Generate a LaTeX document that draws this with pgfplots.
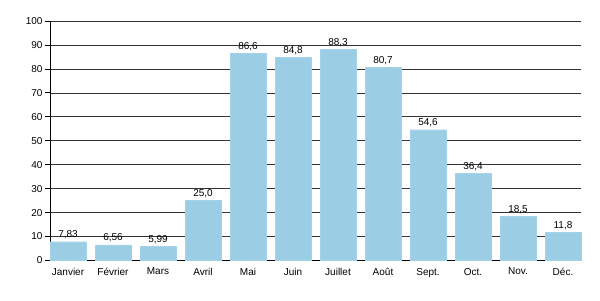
\documentclass[border=0pt]{standalone}
\usepackage{pgfplots}
\pgfplotsset{compat=1.18}
\usepackage{pgfplotstable}
\usepackage{fontspec}
\setmainfont{Liberation Sans}
\definecolor{barblue}{RGB}{155,205,229}
\pgfplotstableread{
x y lab
0 7.83 7,83
1 6.56 6,56
2 5.99 5,99
3 25.0 25,0
4 86.6 86,6
5 84.8 84,8
6 88.3 88,3
7 80.7 80,7
8 54.6 54,6
9 36.4 36,4
10 18.5 18,5
11 11.8 11,8
}\datatable
\begin{document}
\fontsize{10bp}{12bp}\selectfont
\begin{tikzpicture}
\begin{axis}[
  name=ax,
  scale only axis,
  width=531bp, height=239.5bp,
  xmin=-0.4, xmax=11.4,
  ymin=0, ymax=100,
  ytick={0,10,...,100},
  xtick={0,...,11},
  xticklabels={Janvier,Février,Mars,Avril,Mai,Juin,Juillet,Août,Sept.,Oct.,Nov.,Déc.},
  axis x line*=bottom,
  axis y line*=left,
  x axis line style={-, line width=1pt},
  y axis line style={-, line width=0.8pt},
  major x tick style={draw=none},
  ytick style={black, line width=0.8pt},
  tick align=outside,
  major tick length=5bp,
  ymajorgrids,
  grid style={black!80, line width=0.7pt},
  /pgf/number format/assume math mode=true,
  ticklabel style={font=\fontsize{10bp}{12bp}\selectfont},
  xticklabel style={yshift=1bp},
  yticklabel style={xshift=1bp},
  axis on top=false,
  clip=false,
]
\addplot[ybar, bar width=0.8, fill=barblue, draw=barblue!90!white,
  point meta=explicit symbolic,
  nodes near coords,
  nodes near coords style={font=\fontsize{10bp}{12bp}\selectfont, black, inner sep=2.5bp}]
  table[x=x, y=y, meta=lab]{\datatable};
\end{axis}
\path ([xshift=-50bp,yshift=-40bp]ax.south west) rectangle ([xshift=19bp,yshift=21bp]ax.north east);
\end{tikzpicture}
\end{document}
